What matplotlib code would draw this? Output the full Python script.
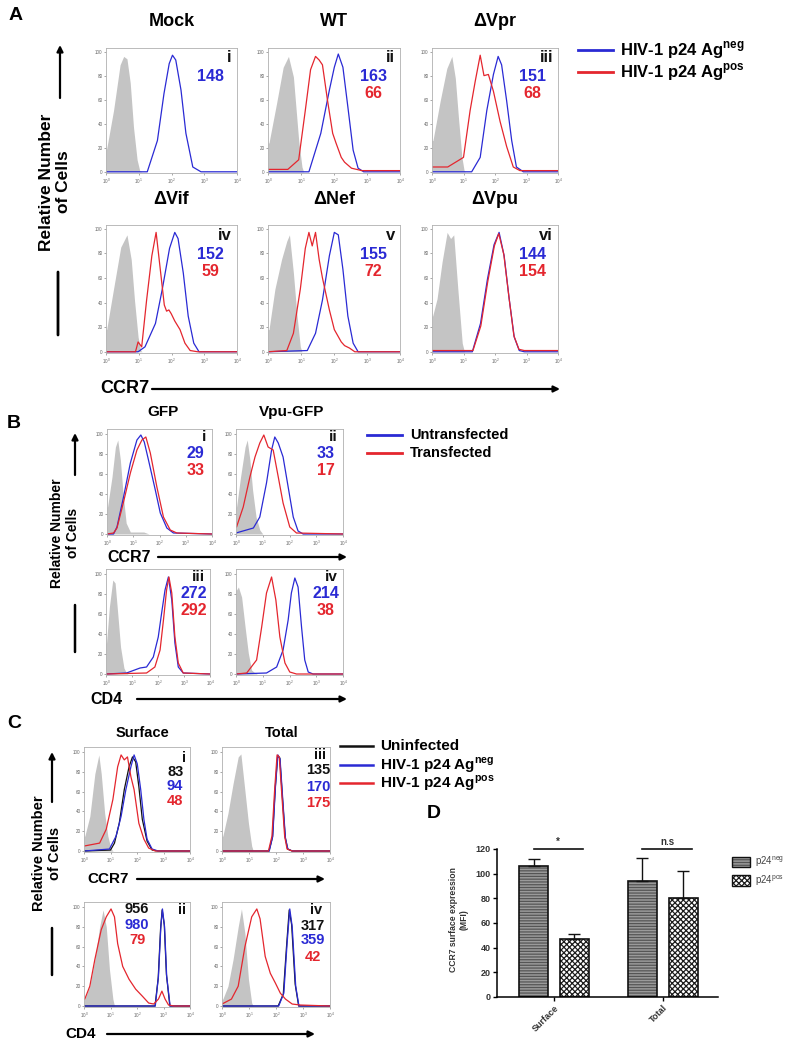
import matplotlib
matplotlib.use('Agg')
import matplotlib.pyplot as plt
import numpy as np
from matplotlib.patches import FancyArrowPatch, Patch
from matplotlib.lines import Line2D

plt.rcParams['font.family'] = ['Liberation Sans', 'DejaVu Sans']
plt.rcParams['mathtext.fontset'] = 'custom'
plt.rcParams['mathtext.rm'] = 'Liberation Sans'
plt.rcParams['mathtext.bf'] = 'Liberation Sans:bold'
plt.rcParams['hatch.linewidth'] = 0.9

# ---- histogram curves: (log10 fluorescence, % of max) ----
# A: CCR7 on infected cells
mock_iso = [(0, 19), (0.02, 19), (0.23, 51), (0.43, 89), (0.54, 96), (0.64, 94), (0.74, 74), (0.84, 37), (0.95, 10), (1.03, 1), (1.1, 0)]
mock_neg = [(0, 0), (1.26, 0), (1.57, 26), (1.77, 65), (1.93, 90), (2.03, 97), (2.13, 93), (2.29, 68), (2.44, 32), (2.65, 4), (2.9, 0), (4, 0)]

wt_iso = [(0, 24), (0.03, 24), (0.26, 57), (0.46, 87), (0.62, 96), (0.77, 79), (0.93, 26), (1.03, 4), (1.08, 0)]
wt_neg = [(0, 0), (1.24, 0), (1.6, 32), (1.86, 68), (2.01, 87), (2.13, 98), (2.27, 87), (2.42, 54), (2.58, 18), (2.73, 3), (2.9, 0), (4, 0)]
wt_pos = [(0, 2), (0.6, 2), (0.93, 10), (1.13, 51), (1.29, 85), (1.44, 96), (1.55, 93), (1.65, 89), (1.8, 60), (1.96, 32), (2.06, 24), (2.22, 12), (2.32, 8), (2.53, 3), (2.84, 1), (4, 1)]

vpr_iso = [(0, 26), (0.03, 26), (0.26, 59), (0.47, 86), (0.63, 96), (0.74, 78), (0.84, 45), (0.95, 12), (1.02, 1), (1.06, 0)]
vpr_neg = [(0, 0), (1.26, 0), (1.53, 12), (1.74, 51), (1.95, 81), (2.1, 96), (2.21, 89), (2.37, 59), (2.53, 26), (2.68, 4), (2.9, 0), (4, 0)]
vpr_pos = [(0, 4), (0.5, 4), (1.0, 12), (1.21, 51), (1.37, 75), (1.53, 97), (1.65, 80), (1.79, 81), (1.95, 67), (2.16, 42), (2.37, 21), (2.58, 4), (2.79, 1), (4, 1)]

vif_iso = [(0, 18), (0.02, 18), (0.23, 51), (0.45, 85), (0.64, 95), (0.77, 75), (0.87, 42), (0.98, 12), (1.06, 1), (1.1, 0)]
vif_neg = [(0, 0), (0.98, 0), (1.19, 4), (1.51, 23), (1.72, 51), (1.94, 84), (2.1, 97), (2.2, 92), (2.36, 64), (2.51, 29), (2.68, 7), (2.84, 0), (4, 0)]
vif_pos = [(0, 0), (0.9, 0), (0.98, 8), (1.09, 4), (1.24, 42), (1.4, 78), (1.53, 97), (1.67, 64), (1.78, 38), (1.85, 33), (1.92, 34), (1.99, 31), (2.1, 25), (2.26, 18), (2.41, 7), (2.57, 1), (2.8, 0), (4, 0)]

nef_iso = [(0, 18), (0.03, 18), (0.21, 51), (0.41, 75), (0.57, 90), (0.65, 95), (0.77, 64), (0.88, 29), (0.98, 4), (1.03, 0)]
nef_neg = [(0, 0), (1.19, 1), (1.44, 15), (1.65, 42), (1.86, 78), (2.01, 97), (2.13, 95), (2.27, 67), (2.42, 29), (2.58, 7), (2.73, 0), (4, 0)]
nef_pos = [(0, 0), (0.57, 1), (0.77, 15), (0.98, 51), (1.13, 84), (1.24, 97), (1.34, 86), (1.44, 97), (1.55, 75), (1.65, 60), (1.86, 34), (2.01, 18), (2.22, 8), (2.32, 5), (2.47, 3), (2.63, 0), (4, 0)]

vpu_iso = [(0, 29), (0.02, 29), (0.16, 43), (0.32, 73), (0.48, 97), (0.59, 92), (0.69, 95), (0.82, 51), (0.96, 7), (1.03, 0)]
vpu_neg = [(0, 0), (1.28, 0), (1.54, 23), (1.76, 59), (1.97, 87), (2.13, 97), (2.29, 78), (2.45, 43), (2.61, 12), (2.77, 1), (2.93, 0), (4, 0)]
vpu_pos = [(0, 1), (1.3, 1), (1.55, 21), (1.77, 57), (1.98, 86), (2.12, 96), (2.28, 79), (2.44, 45), (2.6, 13), (2.76, 2), (2.93, 1), (4, 1)]

# B: GFP / Vpu-GFP transfection
gfp_ccr7_iso = [(0, 27), (0.02, 27), (0.19, 57), (0.32, 87), (0.41, 94), (0.51, 74), (0.61, 41), (0.73, 11), (0.89, 2), (1.4, 2), (1.6, 0)]
gfp_ccr7_untr = [(0, 0), (0.25, 0), (0.38, 7), (0.63, 37), (0.89, 71), (1.14, 94), (1.29, 99), (1.42, 92), (1.58, 74), (1.84, 44), (2.03, 21), (2.28, 6), (2.53, 1), (4, 0)]
gfp_ccr7_tr = [(0, 0), (0.25, 1), (0.38, 6), (0.63, 32), (0.89, 61), (1.14, 84), (1.33, 94), (1.48, 97), (1.65, 81), (1.9, 47), (2.15, 17), (2.41, 4), (2.66, 1), (4, 0)]

vpugfp_ccr7_iso = [(0, 27), (0.02, 27), (0.17, 57), (0.34, 87), (0.42, 94), (0.52, 74), (0.62, 44), (0.75, 17), (0.89, 4), (1.0, 0)]
vpugfp_ccr7_untr = [(0, 1), (0.65, 6), (0.89, 17), (1.14, 51), (1.33, 84), (1.45, 97), (1.58, 91), (1.76, 77), (1.95, 47), (2.14, 17), (2.32, 3), (2.51, 0), (4, 0)]
vpugfp_ccr7_tr = [(0, 7), (0.02, 7), (0.27, 27), (0.52, 57), (0.71, 77), (0.89, 91), (1.04, 99), (1.2, 87), (1.39, 84), (1.58, 57), (1.76, 31), (2.01, 7), (2.26, 1), (4, 0)]

gfp_cd4_iso = [(0, 31), (0.02, 31), (0.13, 67), (0.26, 94), (0.35, 91), (0.44, 64), (0.56, 27), (0.69, 6), (0.79, 1), (0.85, 0)]
gfp_cd4_untr = [(0, 0), (0.79, 1), (1.31, 6), (1.56, 7), (1.82, 17), (2.01, 37), (2.14, 61), (2.27, 84), (2.4, 97), (2.53, 74), (2.65, 31), (2.78, 7), (2.97, 1), (4, 0)]
gfp_cd4_tr = [(0, 0), (1.56, 1), (1.88, 7), (2.08, 24), (2.21, 54), (2.33, 84), (2.42, 97), (2.53, 81), (2.65, 37), (2.78, 11), (2.97, 1), (4, 0)]

vpugfp_cd4_iso = [(0, 84), (0.02, 84), (0.09, 87), (0.21, 77), (0.34, 47), (0.46, 21), (0.58, 4), (0.71, 1), (0.8, 0)]
vpugfp_cd4_untr = [(0, 0), (1.14, 1), (1.52, 7), (1.76, 24), (1.95, 54), (2.07, 81), (2.2, 96), (2.32, 87), (2.45, 47), (2.57, 14), (2.7, 2), (2.88, 0), (4, 0)]
vpugfp_cd4_tr = [(0, 0), (0.4, 1), (0.77, 14), (0.96, 47), (1.14, 81), (1.33, 97), (1.49, 74), (1.64, 37), (1.83, 11), (2.01, 2), (2.26, 0), (4, 0)]

# C: surface vs total staining
surf_ccr7_iso = [(0, 15), (0.03, 15), (0.22, 35), (0.41, 78), (0.56, 97), (0.65, 78), (0.78, 38), (0.9, 15), (1.02, 2), (1.1, 0)]
surf_ccr7_uninf = [(0, 0), (1.0, 1), (1.15, 8), (1.33, 28), (1.52, 62), (1.7, 85), (1.83, 95), (1.95, 90), (2.07, 65), (2.2, 32), (2.38, 10), (2.57, 1), (2.8, 0), (4, 0)]
surf_ccr7_neg = [(0, 0), (0.96, 2), (1.21, 15), (1.4, 35), (1.58, 62), (1.77, 85), (1.89, 97), (2.01, 88), (2.14, 62), (2.26, 32), (2.38, 12), (2.57, 2), (2.8, 0), (4, 0)]
surf_ccr7_pos = [(0, 5), (0.59, 8), (0.84, 22), (1.09, 52), (1.27, 85), (1.4, 97), (1.52, 92), (1.64, 95), (1.77, 75), (1.89, 62), (2.07, 28), (2.26, 12), (2.44, 3), (2.69, 0), (4, 0)]

tot_ccr7_iso = [(0, 15), (0.03, 15), (0.22, 38), (0.41, 68), (0.6, 95), (0.7, 98), (0.82, 68), (0.98, 28), (1.1, 5), (1.16, 0)]
tot_ccr7_uninf = [(0, 0), (1.74, 0), (1.87, 14), (1.97, 63), (2.06, 96), (2.14, 94), (2.24, 53), (2.34, 14), (2.43, 2), (2.6, 0), (4, 0)]
tot_ccr7_neg = [(0, 0), (1.75, 0), (1.88, 15), (1.98, 65), (2.07, 97), (2.15, 93), (2.25, 52), (2.35, 13), (2.44, 2), (2.6, 0), (4, 0)]
tot_ccr7_pos = [(0, 0), (1.72, 0), (1.85, 15), (1.95, 62), (2.04, 97), (2.12, 95), (2.22, 55), (2.32, 15), (2.41, 2), (2.6, 0), (4, 0)]

surf_cd4_iso = [(0, 7), (0.03, 7), (0.22, 20), (0.41, 47), (0.59, 80), (0.72, 97), (0.84, 80), (0.96, 37), (1.09, 7), (1.15, 0)]
surf_cd4_uninf = [(0, 0), (2.68, 0), (2.8, 28), (2.89, 78), (2.95, 97), (3.03, 82), (3.11, 32), (3.24, 0), (4, 0)]
surf_cd4_neg = [(0, 0), (2.69, 0), (2.81, 30), (2.9, 80), (2.96, 98), (3.04, 80), (3.12, 30), (3.25, 0), (4, 0)]
surf_cd4_pos = [(0, 7), (0.03, 7), (0.22, 20), (0.41, 47), (0.65, 77), (0.84, 90), (1.02, 98), (1.15, 90), (1.27, 63), (1.46, 40), (1.7, 27), (1.95, 17), (2.2, 10), (2.44, 3), (2.63, 2), (2.81, 7), (2.94, 15), (3.06, 7), (3.19, 1), (3.4, 0), (4, 0)]

tot_cd4_iso = [(0, 7), (0.03, 7), (0.22, 20), (0.41, 47), (0.6, 80), (0.72, 98), (0.85, 73), (0.98, 27), (1.1, 3), (1.16, 0)]
tot_cd4_uninf = [(0, 0), (2.08, 0), (2.27, 12), (2.39, 60), (2.49, 97), (2.58, 82), (2.71, 22), (2.84, 0), (4, 0)]
tot_cd4_neg = [(0, 0), (2.1, 0), (2.29, 13), (2.41, 63), (2.51, 98), (2.6, 80), (2.73, 20), (2.85, 0), (4, 0)]
tot_cd4_pos = [(0, 2), (0.35, 7), (0.6, 20), (0.85, 60), (1.1, 90), (1.29, 98), (1.41, 88), (1.6, 50), (1.79, 33), (1.98, 23), (2.16, 13), (2.35, 7), (2.6, 2), (2.9, 1), (4, 0)]

# ---- labels and MFI values ----
A_titles = ['Mock', 'WT', 'ΔVpr', 'ΔVif', 'ΔNef', 'ΔVpu']
A_numerals = ['i', 'ii', 'iii', 'iv', 'v', 'vi']
A_neg_mfi = ['148', '163', '151', '152', '155', '144']
A_pos_mfi = ['', '66', '68', '59', '72', '154']

B_titles = ['GFP', 'Vpu-GFP']
B_numerals = ['i', 'ii', 'iii', 'iv']
B_untr_mfi = ['29', '33', '272', '214']
B_tr_mfi = ['33', '17', '292', '38']

C_titles = ['Surface', 'Total']
C_numerals = ['i', 'iii', 'ii', 'iv']
C_uninf_mfi = ['83', '135', '956', '317']
C_neg_mfi = ['94', '170', '980', '359']
C_pos_mfi = ['48', '175', '79', '42']

D_groups = ['Surface', 'Total']
D_neg = [106, 94]
D_neg_err = [6, 19]
D_pos = [47, 80]
D_pos_err = [4, 22]

W, H = 799, 1050
BLUE = '#2a2ad4'
RED = '#e4262e'
BLACK = '#111111'
ISO = '#c4c4c4'

fig = plt.figure(figsize=(W / 100, H / 100), dpi=100)


def rect(x0, y0, x1, y1):
    # pixel box (top-left origin) -> figure fraction
    return [x0 / W, 1 - y1 / H, (x1 - x0) / W, (y1 - y0) / H]


def ftext(x, y, s, **kw):
    fig.text(x / W, 1 - y / H, s, **kw)


def arrow(x0, y0, x1, y1, head=True, lw=1.6):
    style = '-|>' if head else '-'
    fig.add_artist(FancyArrowPatch((x0 / W, 1 - y0 / H), (x1 / W, 1 - y1 / H),
                                   transform=fig.transFigure, arrowstyle=style,
                                   mutation_scale=9, lw=lw, color='black',
                                   shrinkA=0, shrinkB=0))


def hist_ax(box, ytop, iso, curves):
    ax = fig.add_axes(rect(*box))
    xs = [p[0] for p in iso]
    ys = [p[1] for p in iso]
    ax.fill_between(xs, ys, 0, color=ISO, lw=0)
    for pts, col in curves:
        ax.plot([p[0] for p in pts], [p[1] for p in pts], color=col, lw=0.9)
    ax.set_xlim(0, 4)
    ax.set_ylim(-1, ytop)
    ax.set_xticks(range(5))
    ax.set_xticklabels([f'$10^{k}$' for k in range(5)])
    ax.set_yticks(range(0, 101, 20))
    ax.tick_params(labelsize=3.3, length=1.5, width=0.4, pad=1, colors='#666666')
    for s in ax.spines.values():
        s.set_color('#b0b0b0')
        s.set_linewidth(0.6)
    return ax


def put(ax, x, y, s, col, size, ha='center'):
    ax.text(x, y, s, transform=ax.transAxes, color=col, fontsize=size,
            fontweight='bold', ha=ha, va='center')


# ================= A =================
A_boxes = [(106, 48, 237, 173), (268, 48, 400, 173), (432, 48, 558, 173),
           (106, 225, 237, 353), (268, 225, 400, 353), (432, 225, 558, 353)]
A_curves = [(mock_iso, [(mock_neg, BLUE)]),
            (wt_iso, [(wt_neg, BLUE), (wt_pos, RED)]),
            (vpr_iso, [(vpr_neg, BLUE), (vpr_pos, RED)]),
            (vif_iso, [(vif_neg, BLUE), (vif_pos, RED)]),
            (nef_iso, [(nef_neg, BLUE), (nef_pos, RED)]),
            (vpu_iso, [(vpu_neg, BLUE), (vpu_pos, RED)])]
for i, box in enumerate(A_boxes):
    iso, curves = A_curves[i]
    ax = hist_ax(box, 103, iso, curves)
    put(ax, 0.96, 0.92, A_numerals[i], BLACK, 12, ha='right')
    put(ax, 0.8, 0.77, A_neg_mfi[i], BLUE, 11.5)
    put(ax, 0.8, 0.635, A_pos_mfi[i], RED, 11.5)
    ftext((box[0] + box[2]) / 2, box[1] - 26, A_titles[i], fontsize=13,
          fontweight='bold', ha='center', va='center')

ftext(16, 16, 'A', fontsize=14, fontweight='bold', ha='center', va='center')
ftext(55, 182, 'Relative Number\nof Cells', rotation=90, fontsize=12.5,
      fontweight='bold', ha='center', va='center', multialignment='center',
      linespacing=1.1)
arrow(60, 98, 60, 45)
arrow(58, 272, 58, 335, head=False, lw=2)
ftext(100, 389, 'CCR7', fontsize=13, fontweight='bold', ha='left', va='center')
arrow(152, 389, 560, 389)

for yy, col, lab in [(50, BLUE, r'HIV-1 p24 Ag$^{\mathbf{neg}}$'),
                     (72, RED, r'HIV-1 p24 Ag$^{\mathbf{pos}}$')]:
    fig.add_artist(Line2D([578 / W, 613 / W], [1 - yy / H, 1 - yy / H], color=col, lw=2))
    ftext(620, yy, lab, fontsize=12, fontweight='bold', ha='left', va='center')

# ================= B =================
B_boxes = [(107, 429, 212, 535), (236, 429, 343, 535),
           (106, 569, 210, 675), (236, 569, 343, 675)]
B_curves = [(gfp_ccr7_iso, [(gfp_ccr7_untr, BLUE), (gfp_ccr7_tr, RED)]),
            (vpugfp_ccr7_iso, [(vpugfp_ccr7_untr, BLUE), (vpugfp_ccr7_tr, RED)]),
            (gfp_cd4_iso, [(gfp_cd4_untr, BLUE), (gfp_cd4_tr, RED)]),
            (vpugfp_cd4_iso, [(vpugfp_cd4_untr, BLUE), (vpugfp_cd4_tr, RED)])]
for i, box in enumerate(B_boxes):
    iso, curves = B_curves[i]
    ax = hist_ax(box, 105, iso, curves)
    put(ax, 0.95, 0.92, B_numerals[i], BLACK, 11, ha='right')
    put(ax, 0.84, 0.77, B_untr_mfi[i], BLUE, 11.5)
    put(ax, 0.84, 0.61, B_tr_mfi[i], RED, 11.5)
for j, t in enumerate(B_titles):
    ftext([163, 292][j], 412, t, fontsize=11, fontweight='bold', ha='center', va='center')

ftext(14, 424, 'B', fontsize=14, fontweight='bold', ha='center', va='center')
ftext(65, 533, 'Relative Number\nof Cells', rotation=90, fontsize=10,
      fontweight='bold', ha='center', va='center', multialignment='center',
      linespacing=1.1)
arrow(75, 475, 75, 433)
arrow(75, 605, 75, 652, head=False, lw=1.8)
ftext(107, 557, 'CCR7', fontsize=11.5, fontweight='bold', ha='left', va='center')
arrow(158, 557, 347, 557)
ftext(90, 699, 'CD4', fontsize=11.5, fontweight='bold', ha='left', va='center')
arrow(137, 699, 347, 699)
for yy, col, lab in [(435, BLUE, 'Untransfected'), (453, RED, 'Transfected')]:
    fig.add_artist(Line2D([367 / W, 402 / W], [1 - yy / H, 1 - yy / H], color=col, lw=2))
    ftext(410, yy, lab, fontsize=10.5, fontweight='bold', ha='left', va='center')

# ================= C =================
C_boxes = [(84, 747, 190, 852), (222, 747, 330, 852),
           (84, 902, 190, 1007), (222, 902, 330, 1007)]
C_curves = [(surf_ccr7_iso, [(surf_ccr7_uninf, BLACK), (surf_ccr7_neg, BLUE), (surf_ccr7_pos, RED)]),
            (tot_ccr7_iso, [(tot_ccr7_uninf, BLACK), (tot_ccr7_neg, BLUE), (tot_ccr7_pos, RED)]),
            (surf_cd4_iso, [(surf_cd4_uninf, BLACK), (surf_cd4_neg, BLUE), (surf_cd4_pos, RED)]),
            (tot_cd4_iso, [(tot_cd4_uninf, BLACK), (tot_cd4_neg, BLUE), (tot_cd4_pos, RED)])]
# number positions (axes fraction) for each C panel
C_num_x = [0.86, 0.89, 0.5, 0.84]
C_num_y = [(0.76, 0.625, 0.485), (0.78, 0.62, 0.465), (0.93, 0.78, 0.64), (0.77, 0.64, 0.48)]
C_rom = [(0.96, 0.9), (0.96, 0.92), (0.96, 0.92), (0.93, 0.92)]
for i, box in enumerate(C_boxes):
    iso, curves = C_curves[i]
    ax = hist_ax(box, 105, iso, curves)
    put(ax, C_rom[i][0], C_rom[i][1], C_numerals[i], BLACK, 10.5, ha='right')
    put(ax, C_num_x[i], C_num_y[i][0], C_uninf_mfi[i], BLACK, 10.5)
    put(ax, C_num_x[i], C_num_y[i][1], C_neg_mfi[i], BLUE, 10.5)
    put(ax, C_num_x[i], C_num_y[i][2], C_pos_mfi[i], RED, 10.5)
for j, t in enumerate(C_titles):
    ftext([142, 282][j], 733, t, fontsize=10.5, fontweight='bold', ha='center', va='center')

ftext(14, 724, 'C', fontsize=14, fontweight='bold', ha='center', va='center')
ftext(47, 853, 'Relative Number\nof Cells', rotation=90, fontsize=10.5,
      fontweight='bold', ha='center', va='center', multialignment='center',
      linespacing=1.1)
arrow(52, 802, 52, 752)
arrow(52, 928, 52, 975, head=False, lw=1.8)
ftext(87, 879, 'CCR7', fontsize=11, fontweight='bold', ha='left', va='center')
arrow(137, 879, 325, 879)
ftext(65, 1034, 'CD4', fontsize=11, fontweight='bold', ha='left', va='center')
arrow(107, 1034, 315, 1034)
for yy, col, lab in [(746, BLACK, 'Uninfected'),
                     (765, BLUE, r'HIV-1 p24 Ag$^{\mathbf{neg}}$'),
                     (783, RED, r'HIV-1 p24 Ag$^{\mathbf{pos}}$')]:
    fig.add_artist(Line2D([340 / W, 373 / W], [1 - yy / H, 1 - yy / H], color=col, lw=1.8))
    ftext(380, yy, lab, fontsize=11, fontweight='bold', ha='left', va='center')

# ================= D =================
axd = fig.add_axes(rect(497, 849, 718, 997))
xg = np.arange(len(D_groups))
off, bw = 0.188, 0.266
neg_fill = dict(facecolor='#9a9a9a', hatch='------', edgecolor='#555555', lw=0)
pos_fill = dict(facecolor='white', hatch='xxxxxx', edgecolor='#1c1c1c', lw=0)
axd.bar(xg - off, D_neg, bw, **neg_fill)
axd.bar(xg + off, D_pos, bw, **pos_fill)
axd.bar(xg - off, D_neg, bw, fill=False, edgecolor=BLACK, lw=1.2)
axd.bar(xg + off, D_pos, bw, fill=False, edgecolor=BLACK, lw=1.2)
axd.errorbar(xg - off, D_neg, yerr=[[0, 0], D_neg_err], fmt='none', ecolor=BLACK,
             elinewidth=1, capsize=4, capthick=1)
axd.errorbar(xg + off, D_pos, yerr=[[0, 0], D_pos_err], fmt='none', ecolor=BLACK,
             elinewidth=1, capsize=4, capthick=1)
axd.set_xlim(-0.523, 1.505)
axd.set_ylim(0, 120)
axd.set_yticks(range(0, 121, 20))
axd.set_xticks(xg)
axd.set_xticklabels(D_groups, rotation=45, ha='right', rotation_mode='anchor')
axd.tick_params(labelsize=6.5, length=3, width=1, pad=1.5)
for lab in axd.get_xticklabels() + axd.get_yticklabels():
    lab.set_fontweight('bold')
    lab.set_color('#333333')
for s in ['top', 'right']:
    axd.spines[s].set_visible(False)
for s in ['left', 'bottom']:
    axd.spines[s].set_linewidth(1.1)
for k, mark in enumerate(['*', 'n.s']):
    axd.plot([k - off, k + off + 0.08], [120, 120], color=BLACK, lw=1.2, clip_on=False)
    axd.text(k + 0.04, 122, mark, ha='center', va='bottom', fontsize=7,
             fontweight='bold', color='#333333')
ftext(459, 920, 'CCR7 surface expression\n(MFI)', rotation=90, fontsize=6.2,
      fontweight='bold', ha='center', va='center', multialignment='center',
      linespacing=1.2, color='#333333')
ftext(434, 814, 'D', fontsize=14, fontweight='bold', ha='center', va='center')

handles = [(Patch(**neg_fill), Patch(fill=False, edgecolor=BLACK, lw=1)),
           (Patch(**pos_fill), Patch(fill=False, edgecolor=BLACK, lw=1))]
axd.legend(handles, [r'p24$^{\mathregular{neg}}$', r'p24$^{\mathregular{pos}}$'],
           loc='upper left', bbox_to_anchor=(727 / W, 1 - 850 / H),
           bbox_transform=fig.transFigure, frameon=False, fontsize=7,
           handlelength=1.9, handleheight=1.3, handletextpad=0.5,
           labelspacing=0.45, borderpad=0, labelcolor='#444444')

fig.savefig('out.png', dpi=100)
